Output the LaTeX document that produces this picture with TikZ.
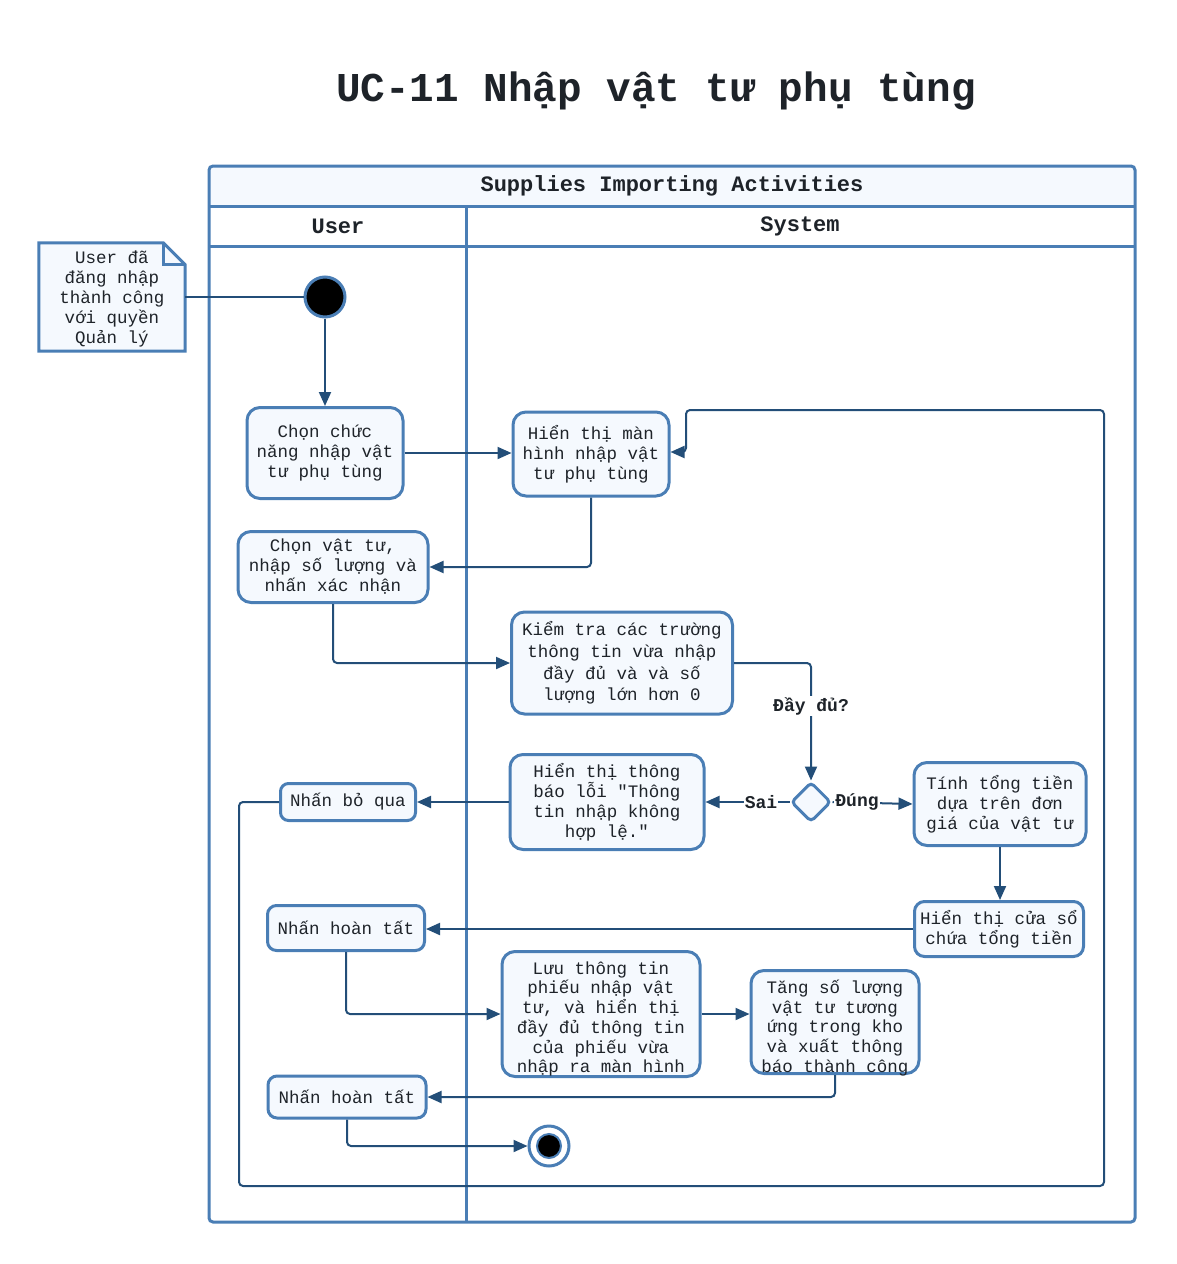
\documentclass[tikz,border=0pt]{standalone}
\usepackage{fontspec}
\setmainfont{Liberation Mono}[Ligatures=TeXOff]
\usetikzlibrary{arrows.meta,shapes.geometric}
\definecolor{lanec}{HTML}{4A7EB5}
\definecolor{linec}{HTML}{234E78}
\definecolor{fillc}{HTML}{F5F9FE}
\definecolor{txtc}{HTML}{1E2329}
\tikzset{
  act/.style={draw=lanec, line width=3pt, fill=fillc, rounded corners=13pt, align=center, text=txtc,
    font=\fontsize{17.5}{20}\selectfont, inner sep=0pt},
  acttext/.style={align=center, text=txtc, font=\fontsize{17.5}{19.7}\selectfont, inner sep=0pt},
  conn/.style={draw=linec, line width=2pt, rounded corners=4pt, -{Triangle[length=14pt,width=12pt]}},
  plain/.style={draw=linec, line width=2pt, rounded corners=4pt},
  lab/.style={fill=white, text=txtc, font=\fontsize{18}{20}\selectfont\bfseries, inner sep=1pt},
}
\begin{document}
\begin{tikzpicture}[x=1pt,y=-1pt]
\useasboundingbox (0,0) rectangle (1176,1264);
% title
\node[text=txtc, font=\fontsize{41}{44}\selectfont\bfseries] (title) at (656,91) {UC-11 Nhập vật tư phụ tùng};
% pool
\fill[fillc] (209,166) rectangle (1135,206);
\draw[lanec, line width=3pt, rounded corners=4pt] (209,166) rectangle (1135,1222);
\draw[lanec, line width=3pt] (209,206) -- (1135,206);
\draw[lanec, line width=3pt] (209,246) -- (1135,246);
\draw[lanec, line width=3pt] (466,206) -- (466,1222);
\node[text=txtc, font=\fontsize{22}{24}\selectfont\bfseries] (pooltitle) at (672,186) {Supplies Importing Activities};
\node[text=txtc, font=\fontsize{22}{24}\selectfont\bfseries] (laneU) at (338,226) {User};
\node[text=txtc, font=\fontsize{22}{24}\selectfont\bfseries] (laneS) at (800,226) {System};
% note
\node[minimum width=146pt, minimum height=108pt, inner sep=0pt] (note) at (112,297) {};
\draw[lanec, line width=3pt, fill=fillc, line join=miter]
  (note.north west) -- ([xshift=-22pt]note.north east) -- ([yshift=-22pt]note.north east) -- (note.south east) -- (note.south west) -- cycle;
\draw[lanec, line width=3pt, line join=miter] ([xshift=-22pt]note.north east) -- ([xshift=-22pt,yshift=-22pt]note.north east) -- ([yshift=-22pt]note.north east);
\node[acttext, font=\fontsize{17.5}{20.2}\selectfont] (notetext) at (112,299) {User đã\\đăng nhập\\thành công\\với quyền\\Quản lý};
% start
\node[circle, fill=black, draw=lanec, line width=3pt, minimum size=40pt, inner sep=0pt] (start) at (325,297) {};
\draw[plain] (note.east) -- (start.west);
% activities
\node[act, minimum width=156pt, minimum height=91pt] (A) at (325,453) {Chọn chức\\năng nhập vật\\tư phụ tùng};
\node[act, minimum width=156pt, minimum height=84pt] (B) at (591,454) {Hiển thị màn\\hình nhập vật\\tư phụ tùng};
\node[act, minimum width=190pt, minimum height=71pt] (C) at (333,567) {Chọn vật tư,\\nhập số lượng và\\nhấn xác nhận};
\node[act, minimum width=221pt, minimum height=102pt, font=\fontsize{17.5}{21.7}\selectfont] (D) at (622,663) {Kiểm tra các trường\\thông tin vừa nhập\\đầy đủ và và số\\lượng lớn hơn 0};
\node[diamond, draw=lanec, fill=fillc, line width=3pt, minimum size=40pt, inner sep=0pt, rounded corners=4pt] (dec) at (811,802) {};
\node[act, minimum width=194pt, minimum height=95pt] (E) at (607,802) {Hiển thị thông\\báo lỗi "Thông\\tin nhập không\\hợp lệ."};
\node[act, minimum width=135pt, minimum height=37pt, rounded corners=8pt] (F) at (348,802) {Nhấn bỏ qua};
\node[act, minimum width=172pt, minimum height=83pt] (G) at (1000,804) {Tính tổng tiền\\dựa trên đơn\\giá của vật tư};
\node[act, minimum width=169pt, minimum height=55pt, rounded corners=10pt] (H) at (999,929) {Hiển thị cửa sổ\\chứa tổng tiền};
\node[act, minimum width=157pt, minimum height=45pt, rounded corners=9pt] (I) at (346,928) {Nhấn hoàn tất};
\node[act, minimum width=198pt, minimum height=125pt] (J) at (601,1014) {};
\node[acttext] (Jt) at (601,1019) {Lưu thông tin\\phiếu nhập vật\\tư, và hiển thị\\đầy đủ thông tin\\của phiếu vừa\\nhập ra màn hình};
\node[act, minimum width=168pt, minimum height=103pt] (K) at (835,1022) {};
\node[acttext] (Kt) at (835,1028) {Tăng số lượng\\vật tư tương\\ứng trong kho\\và xuất thông\\báo thành công};
\node[act, minimum width=158pt, minimum height=42pt, rounded corners=9pt] (L) at (347,1097) {Nhấn hoàn tất};
% end
\node[circle, fill=white, draw=lanec, line width=3pt, minimum size=40pt, inner sep=0pt] (endn) at (549,1146) {};
\node[circle, fill=black, draw=lanec, line width=2pt, minimum size=24pt, inner sep=0pt] (endin) at (549,1146) {};
% connectors
\draw[conn] (start.south) -- (A.north);
\draw[conn] (A.east) -- (B.west |- A.east);
\draw[conn] (B.south) |- (C.east);
\draw[conn] (C.south) |- (D.west);
\draw[conn] (D.east) -| (dec.north);
\node[lab] (full) at (811,706) {Đầy đủ?};
\draw[conn] (dec.west) -- (E.east |- dec.west);
\node[lab] (sai) at (761,802) {Sai};
\draw[conn] (dec.east) -- (G.west);
\node[lab] (dung) at (857,802) {Đúng};
\draw[conn] (E.west) -- (F.east);
\coordinate (lp1) at (239,1186);
\coordinate (lp2) at (1104,1186);
\coordinate (lp3) at (1104,410);
\coordinate (lp4) at (686,410);
\coordinate (lp5) at (686,452);
\draw[conn] (F.west) -| (lp1) -- (lp2) -- (lp3) -- (lp4) -- (lp5) -- (B.east |- lp5);
\draw[conn] (G.south) -- (H.north -| G.south);
\draw[conn] (H.west) -- (I.east |- H.west);
\draw[conn] (I.south) |- (J.west);
\draw[conn] (J.east) -- (K.west |- J.east);
\draw[conn] (K.south) |- (L.east);
\draw[conn] (L.south) |- (endn.west);
\end{tikzpicture}
\end{document}
